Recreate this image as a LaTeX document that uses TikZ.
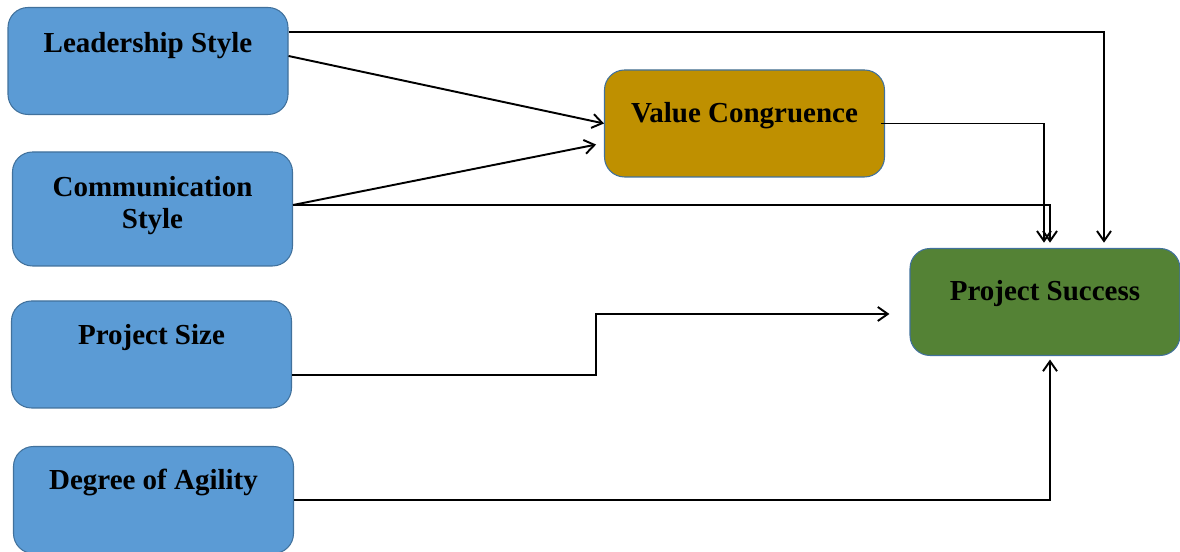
\documentclass[tikz,border=0pt]{standalone}
\usepackage{fontspec}
\setmainfont{Liberation Serif}
\usetikzlibrary{arrows.meta}
\definecolor{boxblue}{HTML}{5B9BD5}
\definecolor{boxgold}{HTML}{BF9000}
\definecolor{boxgreen}{HTML}{548235}
\definecolor{edgeblue}{HTML}{41719C}
\begin{document}
\begin{tikzpicture}[
        box/.style={draw=edgeblue,line width=0.6pt,rounded corners=0.4cm,
            minimum width=5.6cm,minimum height=2.14cm,inner sep=0pt},
        txt/.style={font=\fontsize{16.5}{18}\selectfont\bfseries,align=center,
            inner sep=0pt,anchor=north},
        link/.style={line width=1.1pt,->,
            >={Straight Barb[length=2mm,width=2.8mm]}}]
\useasboundingbox (0,0) rectangle (23.6,11.04);

\node[box,fill=boxblue] at (2.96,9.82) (lead)
    [label={[txt,yshift=-0.5cm,name=leadtxt]north:Leadership Style}] {};
\node[box,fill=boxblue,minimum height=2.28cm] at (3.05,6.86) (comm)
    [label={[txt,yshift=-0.5cm,name=commtxt]north:Communication\\Style}] {};
\node[box,fill=boxblue] at (3.03,3.95) (size)
    [label={[txt,yshift=-0.48cm,name=sizetxt]north:Project Size}] {};
\node[box,fill=boxblue] at (3.07,1.04) (agil)
    [label={[txt,yshift=-0.46cm,name=agiltxt]north:Degree of Agility}] {};
\node[box,fill=boxgold] at (14.89,8.57) (value)
    [label={[txt,yshift=-0.66cm,name=valuetxt]north:Value Congruence}] {};
\node[box,fill=boxgreen,minimum width=5.4cm] at (20.9,5.0) (succ)
    [label={[txt,yshift=-0.64cm,name=succtxt]north:Project Success}] {};

\draw[link,shorten >=3pt] ([yshift=0.58cm]lead.east) -| ([xshift=1.18cm]succ.north);
\draw[link] ([yshift=0.1cm]lead.east) -- (value.west);
\draw[link,shorten >=0.16cm] ([yshift=0.08cm]comm.east) -- ([yshift=-0.39cm]value.west);
\draw[link,shorten >=3pt] ([yshift=0.08cm]comm.east) -| ([xshift=0.1cm]succ.north);
\draw[link,shorten >=3pt] ([xshift=-0.08cm]value.east) -| ([xshift=-0.02cm]succ.north);
\draw[link,shorten >=0.4cm] ([yshift=-0.41cm]size.east) -- ++(6.08,0)
    |- ([yshift=-0.24cm]succ.west);
\draw[link,shorten >=2pt] (agil.east) -| ([xshift=0.1cm]succ.south);
\end{tikzpicture}
\end{document}
